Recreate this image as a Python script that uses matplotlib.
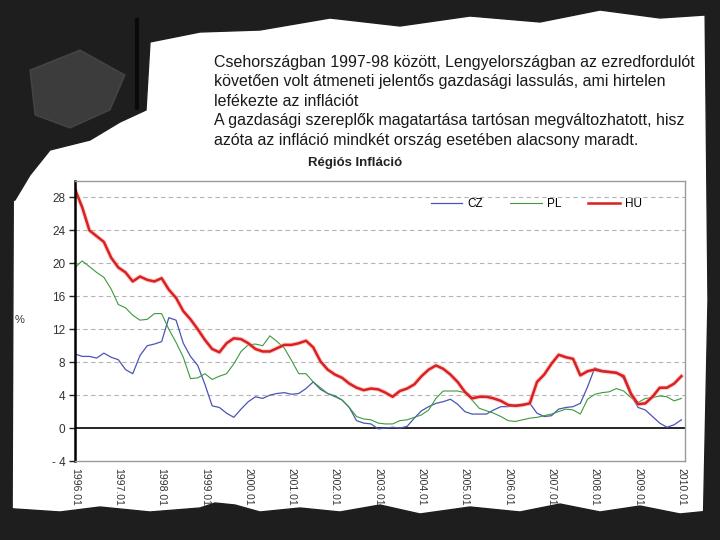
import matplotlib.pyplot as plt
from matplotlib.patches import Polygon

plt.rcParams['font.family'] = ['Liberation Sans', 'DejaVu Sans']

# havi adatok, kéthavonta leolvasva (0 = 1996.01)
honap = list(range(0, 170, 2))

cz = [9.0, 8.7, 8.7, 8.5, 9.1, 8.6, 8.3, 7.1, 6.6, 8.8,
      10.0, 10.2, 10.5, 13.4, 13.1, 10.3, 8.7, 7.6, 5.3, 2.7,
      2.5, 1.8, 1.3, 2.3, 3.2, 3.8, 3.6, 4.0, 4.2, 4.3,
      4.1, 4.2, 4.8, 5.6, 4.7, 4.2, 3.9, 3.4, 2.5, 0.9,
      0.6, 0.5, -0.1, 0.0, 0.1, 0.0, 0.2, 1.2, 2.1, 2.6,
      3.0, 3.2, 3.5, 2.9, 2.0, 1.7, 1.7, 1.7, 2.2, 2.6,
      2.6, 2.8, 2.9, 3.0, 1.8, 1.4, 1.5, 2.3, 2.5, 2.6,
      3.0, 5.0, 7.3, 7.0, 6.9, 6.8, 6.0, 4.0, 2.5, 2.2,
      1.4, 0.6, 0.1, 0.4, 1.0]

pl = [19.5, 20.3, 19.6, 18.9, 18.3, 16.9, 15.0, 14.6, 13.7, 13.1,
      13.2, 13.9, 13.9, 12.0, 10.4, 8.6, 6.0, 6.1, 6.6, 5.9,
      6.3, 6.6, 7.8, 9.3, 10.1, 10.2, 10.0, 11.2, 10.5, 9.7,
      8.2, 6.6, 6.6, 5.6, 4.9, 4.2, 3.8, 3.4, 2.5, 1.4,
      1.1, 1.0, 0.6, 0.5, 0.5, 0.9, 1.0, 1.3, 1.6, 2.2,
      3.6, 4.5, 4.5, 4.5, 4.3, 3.4, 2.4, 2.1, 1.8, 1.4,
      0.9, 0.8, 1.0, 1.2, 1.3, 1.5, 1.7, 2.0, 2.3, 2.2,
      1.7, 3.5, 4.1, 4.3, 4.4, 4.8, 4.5, 3.7, 3.1, 3.6,
      3.7, 3.9, 3.8, 3.3, 3.6]

hu = [29.0, 26.8, 24.0, 23.3, 22.6, 20.7, 19.5, 18.9, 17.8, 18.4,
      18.0, 17.8, 18.2, 16.8, 15.8, 14.2, 13.2, 12.0, 10.7, 9.6,
      9.2, 10.3, 10.9, 10.8, 10.3, 9.6, 9.3, 9.3, 9.7, 10.1,
      10.1, 10.3, 10.6, 9.8, 8.1, 7.1, 6.5, 6.1, 5.4, 4.9,
      4.6, 4.8, 4.7, 4.3, 3.8, 4.5, 4.8, 5.3, 6.3, 7.1,
      7.6, 7.2, 6.5, 5.6, 4.4, 3.6, 3.8, 3.8, 3.6, 3.3,
      2.8, 2.7, 2.8, 3.0, 5.6, 6.5, 7.8, 8.9, 8.6, 8.4,
      6.4, 6.9, 7.1, 6.9, 6.8, 6.7, 6.3, 4.2, 2.9, 3.0,
      3.8, 4.9, 4.9, 5.4, 6.3]

evek = [str(e) + '.01' for e in range(1996, 2011)]
y_ticks = [-4, 0, 4, 8, 12, 16, 20, 24, 28]

szoveg = [
    'Csehországban 1997-98 között, Lengyelországban az ezredfordulót',
    'követően volt átmeneti jelentős gazdasági lassulás, ami hirtelen',
    'lefékezte az inflációt',
    'A gazdasági szereplők magatartása tartósan megváltozhatott, hisz',
    'azóta az infláció mindkét ország esetében alacsony maradt.',
]

fig = plt.figure(figsize=(7.2, 5.4), dpi=100)

# háttér: sötét, kopott keret a dia szélein
bg = fig.add_axes([0, 0, 1, 1], zorder=-5)
bg.set_xlim(0, 720)
bg.set_ylim(540, 0)
bg.axis('off')
sotet = '#1e1e1e'
bg.add_patch(Polygon([(0, 0), (720, 0), (720, 14), (660, 18), (600, 10), (540, 22),
                      (470, 16), (400, 26), (330, 18), (260, 30), (200, 32), (150, 42),
                      (146, 110), (120, 122), (90, 140), (50, 150), (30, 175), (15, 200),
                      (0, 205)], closed=True, color=sotet))
bg.add_patch(Polygon([(30, 70), (80, 50), (125, 75), (110, 110), (70, 128), (35, 115)],
                     closed=True, color='#5a5a5a', alpha=0.5))
bg.plot([137, 137], [20, 108], color='#0a0a0a', lw=3)
bg.add_patch(Polygon([(0, 0), (14, 0), (12, 540), (0, 540)], closed=True, color=sotet))
bg.add_patch(Polygon([(705, 0), (720, 0), (720, 540), (703, 540), (708, 300)],
                     closed=True, color=sotet))
bg.add_patch(Polygon([(0, 540), (720, 540), (720, 510), (680, 514), (640, 506),
                      (600, 512), (560, 504), (520, 512), (470, 507), (420, 514),
                      (380, 505), (340, 512), (300, 508), (260, 512), (235, 505),
                      (215, 503), (200, 508), (150, 512), (100, 507), (60, 512),
                      (0, 508)], closed=True, color=sotet))

# szöveg
for i, sor in enumerate(szoveg):
    fig.text(214 / 720, 1 - (62 + i * 19.5) / 540, sor, fontsize=11.5,
             color='#1a1a1a', va='center', ha='left')

fig.text(355 / 720, 1 - 163 / 540, 'Régiós Infláció', fontsize=9.5,
         fontweight='bold', color='#222222', ha='center', va='center')
fig.text(20 / 720, 1 - 320 / 540, '%', fontsize=8, color='#333333',
         ha='center', va='center')

ax = fig.add_axes([75 / 720, 1 - 461 / 540, 610 / 720, 280 / 540])
ax.plot(honap, cz, color='#4a55b5', lw=0.9, label='CZ')
ax.plot(honap, pl, color='#3d9a3d', lw=0.8, label='PL')
ax.plot(honap, hu, color='#f4a0a0', lw=3.2, alpha=0.5)
ax.plot(honap, hu, color='#dc1f1f', lw=1.8, label='HU')

ax.set_xlim(0, 169)
ax.set_ylim(-4, 30)
ax.set_yticks(y_ticks)
ax.set_yticklabels(['- 4'] + [str(v) for v in y_ticks[1:]], fontsize=8.5, color='#333333')
ax.set_xticks(list(range(0, 169, 12)))
ax.set_xticklabels(evek, rotation=270, fontsize=7.5, color='#333333')
ax.tick_params(axis='x', length=0, pad=5)
ax.tick_params(axis='y', length=4, width=1, color='#222222', pad=3)

for v in y_ticks[2:]:
    ax.axhline(v, color='#b4b4b4', lw=0.8, dashes=(4, 3), zorder=0)
ax.axhline(0, color='black', lw=1.2, zorder=1)

ax.spines['left'].set_color('black')
ax.spines['left'].set_linewidth(1.8)
for s in ['top', 'right', 'bottom']:
    ax.spines[s].set_color('#9a9a9a')
    ax.spines[s].set_linewidth(1)

ax.legend(loc='center', bbox_to_anchor=(0.756, 0.918), ncol=3, frameon=False,
          fontsize=8.5, handlelength=2.7, handletextpad=0.4, columnspacing=2.3)

plt.savefig('out.png', dpi=100)
